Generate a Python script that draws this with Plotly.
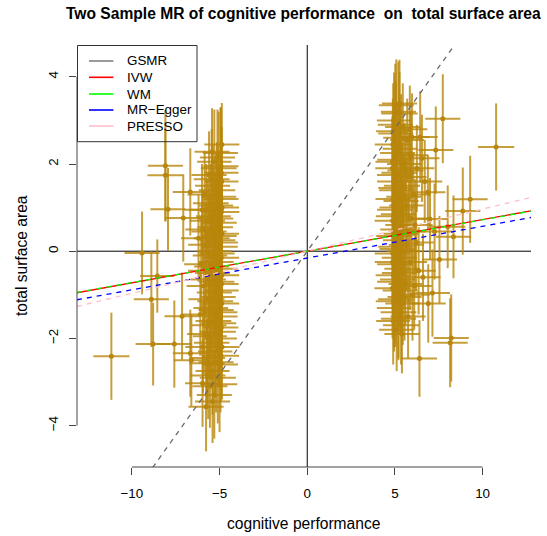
import plotly.graph_objects as go

# ---- data (x = effect on exposure, y = effect on outcome,
#      ex / ey = half-length of the horizontal / vertical error bars) ----
left_outliers = [
    (-11.17, -2.41, 1.03, 1.00), (-9.42, -0.04, 1.00, 0.95), (-8.55, -0.57, 0.98, 0.84),
    (-8.89, -1.10, 1.00, 1.10), (-8.79, -2.13, 1.00, 0.95), (-7.58, -2.13, 1.00, 1.00),
    (-7.94, 0.96, 1.00, 0.95), (-8.09, 1.96, 1.00, 1.28), (-8.09, 1.74, 1.02, 1.05),
    (-7.14, -1.49, 1.00, 1.00), (-6.67, -2.34, 1.00, 1.00), (-6.61, -2.50, 1.00, 1.05),
    (-5.97, -3.03, 1.00, 1.00), (-5.77, -3.57, 1.00, 1.02), (-5.72, -2.57, 1.00, 1.00),
    (-5.43, 2.28, 1.00, 1.00), (-6.67, 1.36, 1.00, 1.00), (-7.07, 0.76, 1.00, 1.00),
]
left_bulk = [
    (-4.95, 2.25, 1.00, 1.05), (-5.30, 2.05, 0.98, 1.20), (-5.05, 1.90, 1.02, 1.30),
    (-5.60, 1.75, 1.00, 1.00), (-4.88, 1.60, 0.96, 1.25), (-5.40, 1.50, 1.00, 0.95),
    (-5.15, 1.40, 1.04, 1.10), (-5.85, 1.30, 0.98, 1.00), (-4.92, 1.20, 1.00, 1.15),
    (-5.50, 1.10, 1.02, 0.90), (-5.20, 1.05, 0.97, 1.20), (-6.00, 0.95, 1.00, 1.05),
    (-4.90, 0.90, 1.03, 1.00), (-5.35, 0.80, 0.99, 1.10), (-5.70, 0.70, 1.01, 0.95),
    (-5.00, 0.65, 0.98, 1.25), (-5.25, 0.55, 1.02, 1.00), (-5.95, 0.50, 1.00, 0.90),
    (-4.86, 0.40, 0.97, 1.15), (-5.45, 0.30, 1.03, 1.00), (-5.10, 0.25, 1.00, 1.10),
    (-5.80, 0.15, 0.99, 0.95), (-4.97, 0.10, 1.01, 1.20), (-5.30, 0.00, 1.00, 1.05),
    (-5.55, -0.10, 0.98, 0.95), (-4.90, -0.15, 1.02, 1.15), (-5.20, -0.25, 1.00, 1.00),
    (-6.05, -0.30, 0.97, 1.10), (-5.00, -0.40, 1.03, 0.90), (-5.40, -0.50, 1.00, 1.20),
    (-4.87, -0.55, 0.99, 1.05), (-5.65, -0.65, 1.01, 1.00), (-5.15, -0.70, 1.00, 1.15),
    (-5.90, -0.80, 0.98, 0.95), (-4.93, -0.90, 1.02, 1.10), (-5.30, -0.95, 1.00, 1.00),
    (-5.05, -1.05, 0.97, 1.25), (-5.75, -1.10, 1.03, 0.90), (-4.88, -1.20, 1.00, 1.05),
    (-5.50, -1.30, 0.99, 1.10), (-5.20, -1.35, 1.01, 1.00), (-6.10, -1.45, 1.00, 0.95),
    (-4.95, -1.50, 0.98, 1.20), (-5.35, -1.60, 1.02, 1.00), (-5.60, -1.70, 1.00, 1.10),
    (-4.90, -1.75, 0.97, 1.05), (-5.10, -1.85, 1.03, 1.15), (-5.85, -1.90, 1.00, 0.95),
    (-5.00, -2.00, 0.99, 1.10), (-5.45, -2.10, 1.01, 1.00), (-4.86, -2.20, 1.00, 1.20),
    (-5.25, -2.30, 0.98, 1.05), (-5.70, -2.45, 1.02, 0.90), (-4.95, -2.60, 1.00, 1.10),
    (-5.40, -2.75, 0.97, 1.00), (-5.10, -2.90, 1.03, 1.05), (-5.55, -3.10, 1.00, 0.95),
    (-5.30, -3.30, 1.00, 1.00), (-4.92, 1.95, 1.00, 1.35), (-5.02, 0.35, 1.00, 1.40),
    (-4.98, -1.40, 1.00, 1.45),
]
left_dense = [
    (-5.12, 2.15, 1.00, 1.10), (-4.90, 1.80, 0.98, 1.05), (-5.45, 1.65, 1.02, 1.15),
    (-5.05, 1.25, 1.00, 1.00), (-4.86, 1.00, 0.97, 1.10), (-5.25, 0.75, 1.03, 1.05),
    (-5.60, 0.45, 1.00, 1.00), (-4.94, 0.20, 0.99, 1.10), (-5.15, -0.05, 1.01, 1.20),
    (-5.45, -0.35, 1.00, 0.95), (-4.89, -0.75, 0.98, 1.15), (-5.25, -1.15, 1.02, 1.05),
    (-5.05, -1.65, 1.00, 1.10), (-5.55, -1.95, 0.97, 1.00), (-4.92, -2.40, 1.03, 1.05),
    (-5.20, -2.55, 1.00, 1.15), (-5.65, -2.85, 0.99, 1.00), (-5.00, -3.05, 1.01, 1.10),
    (-5.40, -3.45, 1.00, 0.95), (-5.80, -0.45, 1.00, 1.00), (-5.75, 0.95, 1.00, 1.05),
    (-6.20, 0.30, 1.00, 1.00), (-5.95, -2.20, 1.00, 1.05), (-4.87, 2.45, 1.00, 0.95),
]
right_bulk = [
    (5.20, 3.20, 1.00, 1.15), (4.95, 3.00, 0.98, 1.10), (5.45, 2.85, 1.02, 1.00),
    (5.05, 2.70, 1.00, 1.20), (5.70, 2.55, 0.97, 0.95), (4.88, 2.45, 1.03, 1.05),
    (5.30, 2.35, 1.00, 1.10), (5.90, 2.20, 0.99, 1.00), (5.00, 2.10, 1.01, 1.20),
    (5.55, 2.00, 1.00, 0.95), (4.86, 1.90, 0.98, 1.15), (5.25, 1.80, 1.02, 1.05),
    (5.80, 1.70, 1.00, 1.00), (4.95, 1.60, 0.97, 1.25), (5.40, 1.50, 1.03, 1.00),
    (5.10, 1.40, 1.00, 1.10), (6.05, 1.30, 0.99, 0.95), (4.90, 1.20, 1.01, 1.15),
    (5.35, 1.15, 1.00, 1.05), (5.65, 1.05, 0.98, 1.00), (5.00, 0.95, 1.02, 1.20),
    (5.20, 0.85, 1.00, 0.95), (5.95, 0.75, 0.97, 1.10), (4.87, 0.70, 1.03, 1.00),
    (5.45, 0.60, 1.00, 1.15), (5.15, 0.50, 0.99, 1.05), (5.75, 0.45, 1.01, 0.95),
    (4.93, 0.35, 1.00, 1.20), (5.30, 0.25, 0.98, 1.00), (6.20, 0.20, 1.02, 1.10),
    (5.05, 0.10, 1.00, 1.05), (5.50, 0.00, 0.97, 1.00), (4.88, -0.05, 1.03, 1.15),
    (5.25, -0.15, 1.00, 0.95), (5.85, -0.25, 0.99, 1.10), (5.00, -0.30, 1.01, 1.00),
    (5.40, -0.40, 1.00, 1.20), (6.35, -0.45, 0.98, 1.00), (4.92, -0.55, 1.02, 1.05),
    (5.15, -0.65, 1.00, 1.10), (5.60, -0.75, 0.97, 0.95), (4.86, -0.85, 1.03, 1.15),
    (5.30, -0.90, 1.00, 1.00), (6.00, -1.00, 0.99, 1.05), (5.05, -1.10, 1.01, 1.10),
    (5.45, -1.20, 1.00, 0.95), (4.95, -1.30, 0.98, 1.00), (5.20, -1.40, 1.02, 1.05),
    (5.75, -1.50, 1.00, 0.95), (4.90, -1.60, 0.97, 1.00), (5.35, -1.70, 1.03, 0.90),
    (5.10, -1.80, 1.00, 0.95), (5.02, 2.90, 1.00, 1.40), (5.12, 1.00, 1.00, 1.45),
    (4.98, -0.70, 1.00, 1.40), (6.70, 1.60, 1.00, 0.95), (6.60, -0.60, 1.00, 1.00),
    (6.90, -1.20, 1.00, 0.90), (6.25, 1.90, 1.00, 1.00), (6.88, 1.35, 1.00, 0.86),
    (7.00, 0.74, 1.00, 0.94), (7.26, 0.45, 1.00, 1.10),
]
right_dense = [
    (5.08, 3.35, 1.00, 1.05), (4.90, 2.75, 0.98, 1.10), (5.35, 2.60, 1.02, 1.00),
    (5.15, 2.25, 1.00, 1.15), (4.86, 2.05, 0.97, 1.05), (5.60, 1.85, 1.03, 1.00),
    (5.05, 1.45, 1.00, 1.10), (5.50, 1.25, 0.99, 0.95), (4.92, 0.80, 1.01, 1.15),
    (5.35, 0.40, 1.00, 1.05), (5.10, 0.05, 0.98, 1.10), (4.87, -0.25, 1.02, 1.00),
    (5.25, -0.50, 1.00, 1.15), (5.55, -1.05, 0.97, 1.00), (4.94, -1.15, 1.03, 1.05),
    (5.20, -1.55, 1.00, 0.95), (5.65, 0.15, 1.00, 1.05), (6.10, -0.80, 1.00, 1.00),
    (5.85, 2.80, 1.00, 1.00), (6.15, 0.60, 1.00, 1.05), (4.98, 1.75, 1.00, 1.30),
    (5.40, -1.90, 1.00, 0.90),
]
right_outliers = [
    (10.77, 2.39, 1.03, 1.00), (7.73, 3.04, 1.00, 1.02), (7.33, 2.32, 1.00, 1.00),
    (9.29, 1.19, 1.00, 1.00), (8.87, 0.92, 1.00, 1.00), (8.01, 0.56, 1.00, 0.95),
    (8.34, 0.33, 1.00, 0.95), (7.54, -0.19, 1.00, 1.00), (7.14, -0.96, 1.00, 1.00),
    (8.21, -1.99, 1.00, 1.00), (8.15, -2.10, 1.00, 1.02), (6.40, -2.46, 1.00, 0.88),
    (5.26, 3.39, 1.00, 1.00), (5.26, 3.16, 1.04, 0.95), (5.97, 2.62, 1.00, 1.00),
    (6.44, 2.62, 1.00, 1.05), (6.54, 2.13, 1.00, 1.00),
]

methods = ["GSMR", "IVW", "WM", "MR\u2212Egger", "PRESSO"]
slopes = [0.563, 0.0726, 0.0720, 0.0729, 0.0966]
intercepts = [0.0, 0.0, 0.0, -0.157, 0.0]
line_colors = ["#6a6a6a", "#ff0000", "#00ff00", "#0000ff", "#ffc0cb"]
legend_colors = ["#808080", "#ff0000", "#00ff00", "#0000ff", "#ffc0cb"]
line_dash = ["5px,5px", "solid", "5px,5px", "5px,5px", "5px,5px"]

x_ticks = [-10, -5, 0, 5, 10]
y_ticks = [-4, -2, 0, 2, 4]
X_RANGE = [-13.13, 12.76]
Y_RANGE = [-4.95, 4.73]

title_text = "Two Sample MR of cognitive performance  on  total surface area"
x_title = "cognitive performance"
y_title = "total surface area"

FONT = "Liberation Sans, Arial, Helvetica, sans-serif"
GOLD = "#b8860b"
GOLD_A = "rgba(184,134,11,0.8)"

snps = left_outliers + left_bulk + left_dense + right_bulk + right_dense + right_outliers
bx = [s[0] for s in snps]
by = [s[1] for s in snps]
ex = [s[2] for s in snps]
ey = [s[3] for s in snps]

fig = go.Figure()

fig.add_trace(go.Scatter(
    x=bx, y=by, mode="markers",
    marker=dict(color=GOLD, size=5, line=dict(width=0)),
    error_x=dict(type="data", array=ex, visible=True, color=GOLD_A, thickness=2, width=0),
    error_y=dict(type="data", array=ey, visible=True, color=GOLD_A, thickness=2, width=0),
    showlegend=False, hoverinfo="skip",
))

for name, b, a, col, dash in zip(methods, slopes, intercepts, line_colors, line_dash):
    xs = list(X_RANGE)
    ys = [a + b * v for v in xs]
    fig.add_trace(go.Scatter(
        x=xs, y=ys, mode="lines", name=name,
        line=dict(color=col, width=1.3, dash=dash),
        showlegend=False, hoverinfo="skip",
    ))

shapes = [
    # abline(h=0), abline(v=0)
    dict(type="line", xref="paper", yref="y", x0=0, x1=1, y0=0, y1=0,
         line=dict(color="black", width=1), layer="below"),
    dict(type="line", xref="x", yref="paper", x0=0, x1=0, y0=0, y1=1,
         line=dict(color="black", width=1), layer="below"),
    # R-style axis lines spanning first..last tick
    dict(type="line", xref="x", yref="paper", x0=x_ticks[0], x1=x_ticks[-1], y0=0, y1=0,
         line=dict(color="#444444", width=1)),
    dict(type="line", xref="paper", yref="y", x0=0, x1=0, y0=y_ticks[0], y1=y_ticks[-1],
         line=dict(color="#444444", width=1)),
]

# legend (top-left, R style)
PW, PH = 454.0, 422.0
def px2paper_x(px):
    return (px - 77.0) / PW
def py2paper_y(py):
    return (467.0 - py) / PH

shapes.append(dict(type="rect", xref="paper", yref="paper",
                   x0=px2paper_x(77.5), x1=px2paper_x(197), y0=py2paper_y(141.7), y1=py2paper_y(45.5),
                   line=dict(color="#333333", width=1), fillcolor="rgba(0,0,0,0)"))
annotations = []
row_y = [61, 77.3, 94, 110, 126]
for name, col, ry in zip(methods, legend_colors, row_y):
    shapes.append(dict(type="line", xref="paper", yref="paper",
                       x0=px2paper_x(89), x1=px2paper_x(113.4), y0=py2paper_y(ry), y1=py2paper_y(ry),
                       line=dict(color=col, width=1.6)))
    annotations.append(dict(text=name, xref="paper", yref="paper",
                            x=px2paper_x(124.5), y=py2paper_y(ry), xanchor="left", yanchor="middle",
                            showarrow=False, font=dict(family=FONT, size=13.4, color="black")))

annotations.append(dict(text="<b>" + title_text.replace("  ", "&nbsp; ") + "</b>",
                        xref="paper", yref="paper",
                        x=px2paper_x(303), y=py2paper_y(13.5), xanchor="center", yanchor="middle",
                        showarrow=False, font=dict(family=FONT, size=15.6, color="black")))
annotations.append(dict(text=x_title, xref="paper", yref="paper",
                        x=px2paper_x(303.5), y=py2paper_y(523), xanchor="center", yanchor="middle",
                        showarrow=False, font=dict(family=FONT, size=15.6, color="black")))
annotations.append(dict(text=y_title, xref="paper", yref="paper",
                        x=px2paper_x(21), y=py2paper_y(256), xanchor="center", yanchor="middle",
                        textangle=-90, showarrow=False, font=dict(family=FONT, size=15.6, color="black")))

axis_common = dict(showgrid=False, zeroline=False, showline=False, ticks="outside",
                   ticklen=7, tickwidth=1, tickcolor="#444444",
                   tickfont=dict(family=FONT, size=13.4, color="black"))

fig.update_layout(
    width=547, height=536,
    margin=dict(l=77, r=16, t=45, b=69, pad=0),
    paper_bgcolor="white", plot_bgcolor="white",
    showlegend=False,
    xaxis=dict(range=X_RANGE, tickvals=x_ticks, ticklabelstandoff=7, **axis_common),
    yaxis=dict(range=Y_RANGE, tickvals=y_ticks, tickangle=-90, ticklabelstandoff=6, **axis_common),
    shapes=shapes, annotations=annotations,
    font=dict(family=FONT),
)

fig.write_html(
    "out.html",
    config={"displayModeBar": False, "staticPlot": True},
    post_script="document.body.style.margin='0px';document.body.style.padding='0px';"
                "document.body.style.overflow='hidden';",
)
